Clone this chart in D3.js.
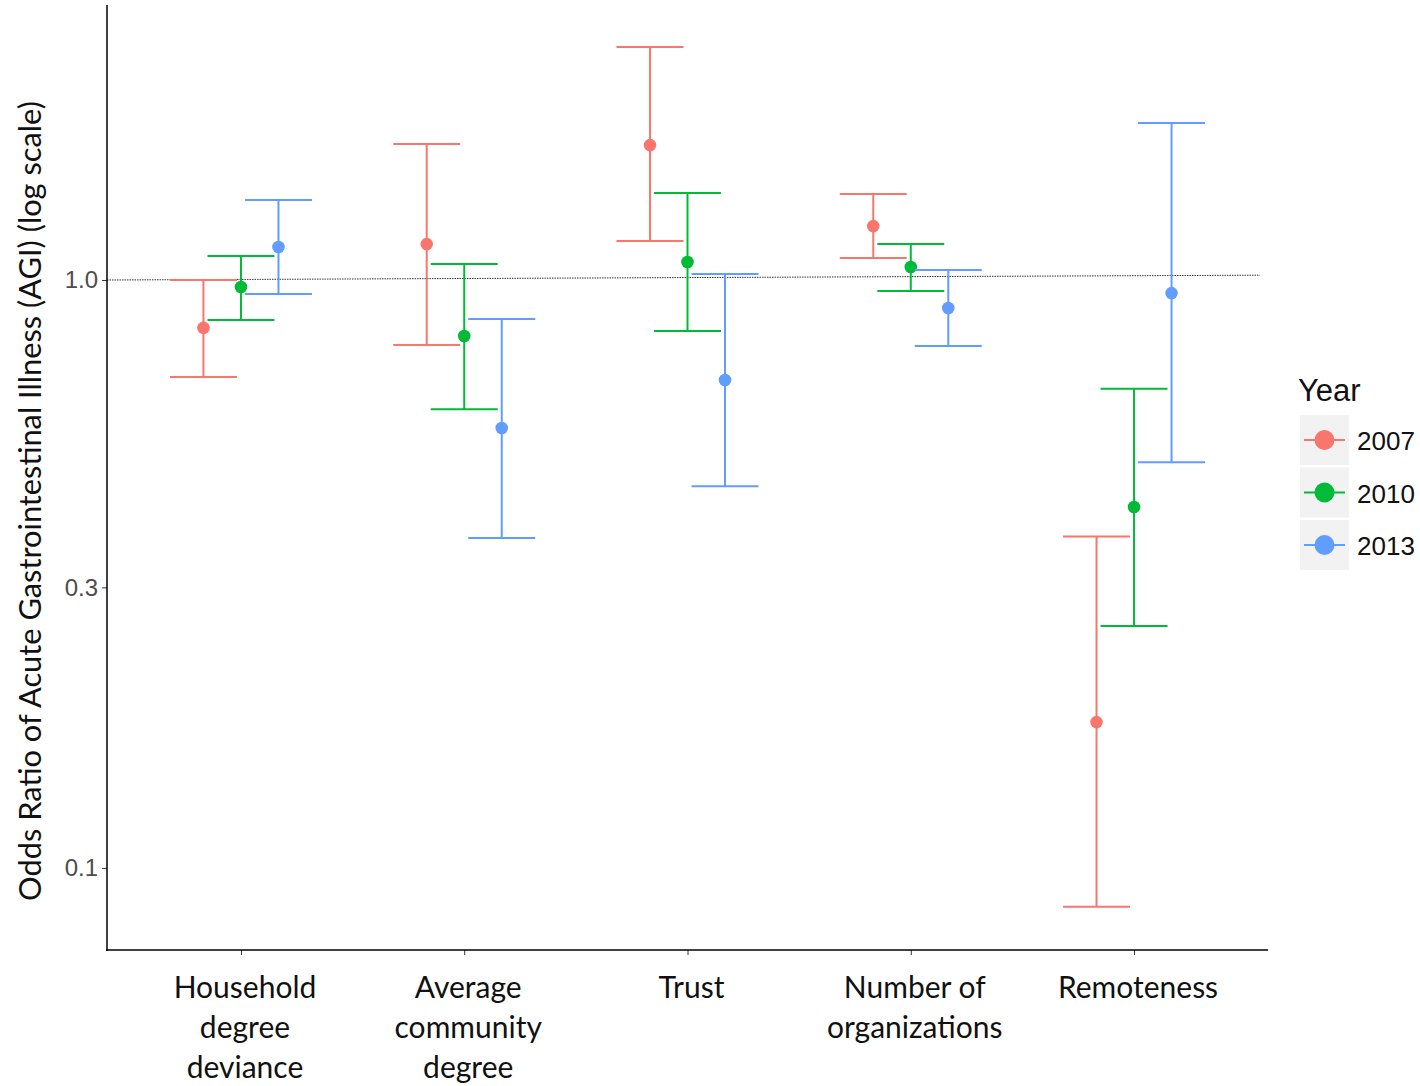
<!DOCTYPE html>
<html>
<head>
<meta charset="utf-8">
<script src="https://cdn.jsdelivr.net/npm/d3@7"></script>
<style>
  html, body { margin: 0; padding: 0; background: #fff; }
  svg { display: block; }
</style>
</head>
<body>
<svg id="chart" width="1420" height="1086"></svg>
<script>
// Predictors on the x axis (multi-line labels)
const categories = ["Household degree deviance", "Average community degree", "Trust", "Number of organizations", "Remoteness"];
const categoryLines = [
  ["Household", "degree", "deviance"],
  ["Average", "community", "degree"],
  ["Trust"],
  ["Number of", "organizations"],
  ["Remoteness"]
];
const years = ["2007", "2010", "2013"];
const yearColors = ["#F8766D", "#00BA38", "#619CFF"];

// Odds ratio estimates with 95% CI, one array per year, in category order
const or2007 = [0.829, 1.151, 1.696, 1.235, 0.177];
const lo2007 = [0.684, 0.775, 1.165, 1.090, 0.0859];
const hi2007 = [1.000, 1.704, 2.490, 1.400, 0.366];

const or2010 = [0.973, 0.803, 1.073, 1.052, 0.411];
const lo2010 = [0.855, 0.603, 0.819, 0.958, 0.258];
const hi2010 = [1.098, 1.065, 1.406, 1.151, 0.653];

const or2013 = [1.138, 0.560, 0.676, 0.896, 0.950];
const lo2013 = [0.947, 0.364, 0.446, 0.772, 0.490];
const hi2013 = [1.368, 0.858, 1.024, 1.040, 1.849];

const yTicks = [0.1, 0.3, 1.0];
const yTickLabels = ["0.1", "0.3", "1.0"];
const refLine = [1.0, 1.019];   // reference line at OR = 1 (left end, right end)

const estimates = [or2007, or2010, or2013];
const lowers = [lo2007, lo2010, lo2013];
const uppers = [hi2007, hi2010, hi2013];

const rows = [];
years.forEach((yr, j) => {
  categories.forEach((c, i) => {
    rows.push({ cat: c, year: yr, yi: j, est: estimates[j][i], lo: lowers[j][i], hi: uppers[j][i] });
  });
});

const svg = d3.select("#chart");
const plot = { left: 107, right: 1268, top: 5, bottom: 950 };

const x = d3.scalePoint().domain(categories).range([plot.left, plot.right]).padding(0.6);
const dodge = d3.scalePoint().domain(years).range([-0.168, 0.168]);
const capHalf = 0.15;
const y = d3.scaleLog().domain([0.0725, 2.936]).range([plot.bottom, plot.top]);
const color = d3.scaleOrdinal().domain(years).range(yearColors);

// Reference line
svg.append("line")
  .attr("x1", plot.left).attr("x2", 1260)
  .attr("y1", y(refLine[0])).attr("y2", y(refLine[1]))
  .attr("stroke", "#333").attr("stroke-width", 1)
  .attr("stroke-dasharray", "1.5,1");

// Error bars and points
const g = svg.append("g");
const step = x.step();
rows.forEach(d => {
  const cx = x(d.cat) + dodge(d.year) * step;
  const col = color(d.year);
  const hw = capHalf * step;
  g.append("line").attr("x1", cx).attr("x2", cx).attr("y1", y(d.lo)).attr("y2", y(d.hi))
    .attr("stroke", col).attr("stroke-width", 2);
  [d.lo, d.hi].forEach(v => {
    g.append("line").attr("x1", cx - hw).attr("x2", cx + hw).attr("y1", y(v)).attr("y2", y(v))
      .attr("stroke", col).attr("stroke-width", 2);
  });
  g.append("circle").attr("cx", cx).attr("cy", y(d.est)).attr("r", 6.3).attr("fill", col);
});

// Y axis
const yAxis = d3.axisLeft(y).tickValues(yTicks).tickFormat((d, i) => yTickLabels[i]).tickSize(5).tickPadding(4);
const yg = svg.append("g").attr("transform", `translate(${plot.left},0)`).call(yAxis);
yg.select(".domain").remove();
yg.selectAll(".tick line").attr("stroke", "#333");
yg.selectAll(".tick text").attr("fill", "#4d4d4d").style("font-family", "Liberation Sans, Arial, sans-serif").style("font-size", "24px");
svg.append("line").attr("x1", plot.left).attr("x2", plot.left).attr("y1", plot.top).attr("y2", plot.bottom + 1)
  .attr("stroke", "#000").attr("stroke-width", 1.5);

// X axis
const xAxis = d3.axisBottom(x).tickSize(5).tickFormat("");
const xg = svg.append("g").attr("transform", `translate(0,${plot.bottom})`).call(xAxis);
xg.select(".domain").remove();
xg.selectAll(".tick line").attr("stroke", "#333");
svg.append("line").attr("x1", plot.left - 1).attr("x2", plot.right).attr("y1", plot.bottom).attr("y2", plot.bottom)
  .attr("stroke", "#000").attr("stroke-width", 1.5);

const xLab = svg.append("g").style("font-family", "Lato, 'Open Sans', sans-serif").style("font-size", "30px").attr("fill", "#111");
categories.forEach((c, i) => {
  const t = xLab.append("text").attr("x", x(c) + 4).attr("y", 998).attr("text-anchor", "middle");
  categoryLines[i].forEach((ln, k) => {
    t.append("tspan").attr("x", x(c) + 4).attr("dy", k === 0 ? 0 : 40).text(ln);
  });
});

// Y axis title
svg.append("text")
  .attr("transform", "translate(41,501) rotate(-90)")
  .attr("text-anchor", "middle")
  .style("font-family", "Lato, 'Open Sans', sans-serif").style("font-size", "30.8px").attr("fill", "#111")
  .text("Odds Ratio of Acute Gastrointestinal Illness (AGI) (log scale)");

// Legend
const lg = svg.append("g").attr("transform", "translate(1300,0)");
lg.append("text").attr("x", -2).attr("y", 401).style("font-family", "Liberation Sans, Arial, sans-serif")
  .style("font-size", "31px").attr("fill", "#111").text("Year");
years.forEach((yr, j) => {
  const top = 415 + j * 52.5;
  lg.append("rect").attr("x", 0).attr("y", top).attr("width", 49).attr("height", 50).attr("fill", "#F2F2F2");
  lg.append("line").attr("x1", 4).attr("x2", 45).attr("y1", top + 25).attr("y2", top + 25)
    .attr("stroke", color(yr)).attr("stroke-width", 2);
  lg.append("circle").attr("cx", 24.5).attr("cy", top + 25).attr("r", 10).attr("fill", color(yr));
  lg.append("text").attr("x", 57).attr("y", top + 35).style("font-family", "Liberation Sans, Arial, sans-serif")
    .style("font-size", "26px").attr("fill", "#111").text(yr);
});
</script>
</body>
</html>
